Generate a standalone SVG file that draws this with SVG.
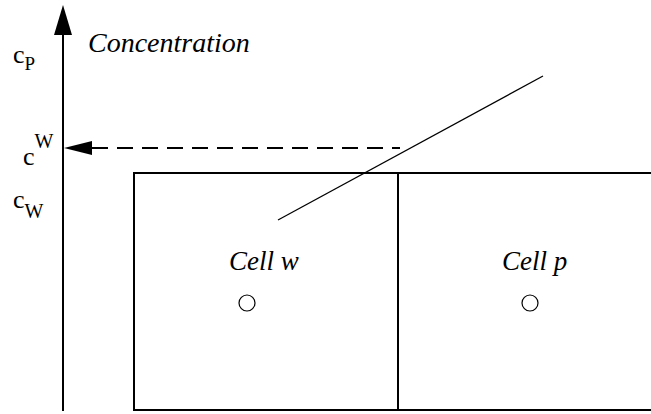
<svg xmlns="http://www.w3.org/2000/svg" width="651" height="414" viewBox="0 0 651 414">
<style>
.ln{stroke:#000;stroke-width:2;fill:none}
.t{font-family:"Times New Roman","Liberation Serif","Nimbus Roman","DejaVu Serif","Noto Serif",serif;fill:#000}
.i{font-style:italic}
</style>
<rect width="651" height="414" fill="#fff"/>
<g id="axis">
<line class="ln" x1="63" y1="30" x2="63" y2="411"/>
<polygon points="63,5 54,35 72,35" fill="#000"/>
<text class="t i" x="88" y="52" font-size="28">Concentration</text>
<text class="t" x="13" y="63" font-size="26">c<tspan font-size="19" dy="7">P</tspan></text>
<text class="t" x="23" y="165" font-size="26">c<tspan font-size="20" dy="-17">W</tspan></text>
<text class="t" x="13" y="208" font-size="26">c<tspan font-size="20" dy="10">W</tspan></text>
</g>
<g id="cell-w">
<rect class="ln" x="134" y="173" width="264" height="237"/>
<text class="t i" x="229" y="270" font-size="27">Cell w</text>
<circle cx="247" cy="303" r="8" fill="#fff" stroke="#000" stroke-width="1.2"/>
</g>
<g id="cell-p">
<rect class="ln" x="398" y="173" width="260" height="237"/>
<text class="t i" x="502" y="270" font-size="27">Cell p</text>
<circle cx="530" cy="303" r="8" fill="#fff" stroke="#000" stroke-width="1.2"/>
</g>
<g id="connectors">
<line class="ln" x1="92" y1="148" x2="400" y2="148" stroke-dasharray="16,9"/>
<polygon points="64,148 92,141 92,155" fill="#000"/>
<line x1="278" y1="220" x2="543" y2="76" stroke="#000" stroke-width="1.3"/>
</g>
</svg>
